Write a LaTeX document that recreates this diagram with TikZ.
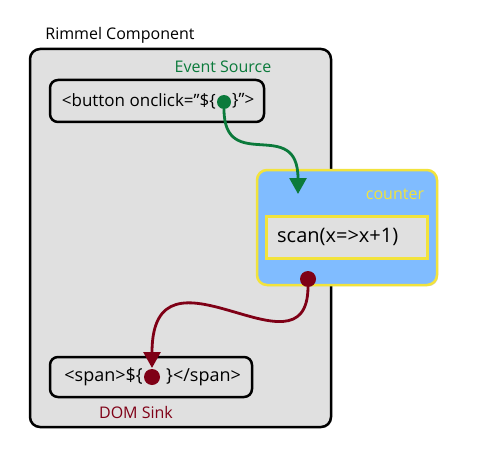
\documentclass[tikz,border=0pt]{standalone}
\usepackage{fontspec}
\setmainfont{Open Sans}
\usetikzlibrary{arrows.meta,shadows}

\definecolor{srcgreen}{HTML}{0B7A3B}
\definecolor{sinkred}{HTML}{7F0016}
\definecolor{ctrblue}{HTML}{80BCFF}
\definecolor{ctryellow}{HTML}{F2E33C}
\definecolor{boxgrey}{HTML}{E0E0E0}

\begin{document}
\begin{tikzpicture}[x=1pt,y=-1pt,
    tagbox/.style={draw=black,line width=2.5pt,rounded corners=8pt,fill=boxgrey},
    softshadow/.style={drop shadow={shadow xshift=1.2pt,shadow yshift=-1.2pt,opacity=.3}},
    txt/.style={font=\fontsize{16}{19}\selectfont,inner sep=0pt},
    tag/.style={font=\fontsize{17}{20}\selectfont,inner sep=0pt},
    dot/.style={circle,inner sep=0pt,minimum size=#1},
    flow/.style={line width=2.8pt,-{Triangle[length=16pt,width=17pt]}}]
    \useasboundingbox (0,0) rectangle (481,457);

    % component frame
    \node[draw,line width=2.5pt,rounded corners=10pt,fill=boxgrey,softshadow,
          minimum width=301pt,minimum height=378pt] (comp) at (180.5,238) {};
    \node[txt] (complabel) at (120,35) {Rimmel Component};

    % event source
    \node[txt,text=srcgreen] (srclabel) at (223,67) {Event Source};
    \node[tagbox,minimum width=214pt,minimum height=42pt] (btnbox) at (157,101) {};
    \node[tag,anchor=east] (btntext) at (216,101) {<button onclick=\symbol{34}\$\{};
    \node[tag,anchor=west] (btnend) at (232,101) {\}\symbol{34}>};
    \node[dot=14pt,fill=srcgreen] (srcdot) at (224,102) {};

    % counter
    \node[draw=ctryellow,line width=2.5pt,rounded corners=10pt,fill=ctrblue,softshadow,
          minimum width=180pt,minimum height=115pt] (ctr) at (347,227.5) {};
    \node[txt,text=ctryellow] (ctrlabel) at (395,194) {counter};
    \node[draw=ctryellow,line width=3pt,fill=boxgrey,
          minimum width=161pt,minimum height=42pt] (scanbox) at (346.5,237) {};
    \node[tag,font=\fontsize{20}{24}\selectfont,anchor=west] (scantext) at (277,237) {scan(x=>x+1)};
    \node[dot=16pt,fill=sinkred] (ctrdot) at (308,279) {};
    \coordinate (ctrin) at (298,194);

    % dom sink
    \node[tagbox,minimum width=202pt,minimum height=40pt] (spanbox) at (151,377) {};
    \node[tag,font=\fontsize{18}{21}\selectfont,anchor=east] (spantext) at (143,377) {<span>\$\{};
    \node[tag,font=\fontsize{18}{21}\selectfont,anchor=west] (spanend) at (166,377) {\}</span>};
    \node[dot=16pt,fill=sinkred] (sinkdot) at (152,377) {};
    \node[txt,text=sinkred] (sinklabel) at (136,412) {DOM Sink};
    \coordinate (sinkin) at (152,368);

    % connectors
    \draw[flow,srcgreen] (srcdot.south) .. controls (224,175) and (298,115) .. (ctrin);
    \draw[flow,sinkred] (ctrdot.south) .. controls (307,385) and (152,230) .. (sinkin);
\end{tikzpicture}
\end{document}
